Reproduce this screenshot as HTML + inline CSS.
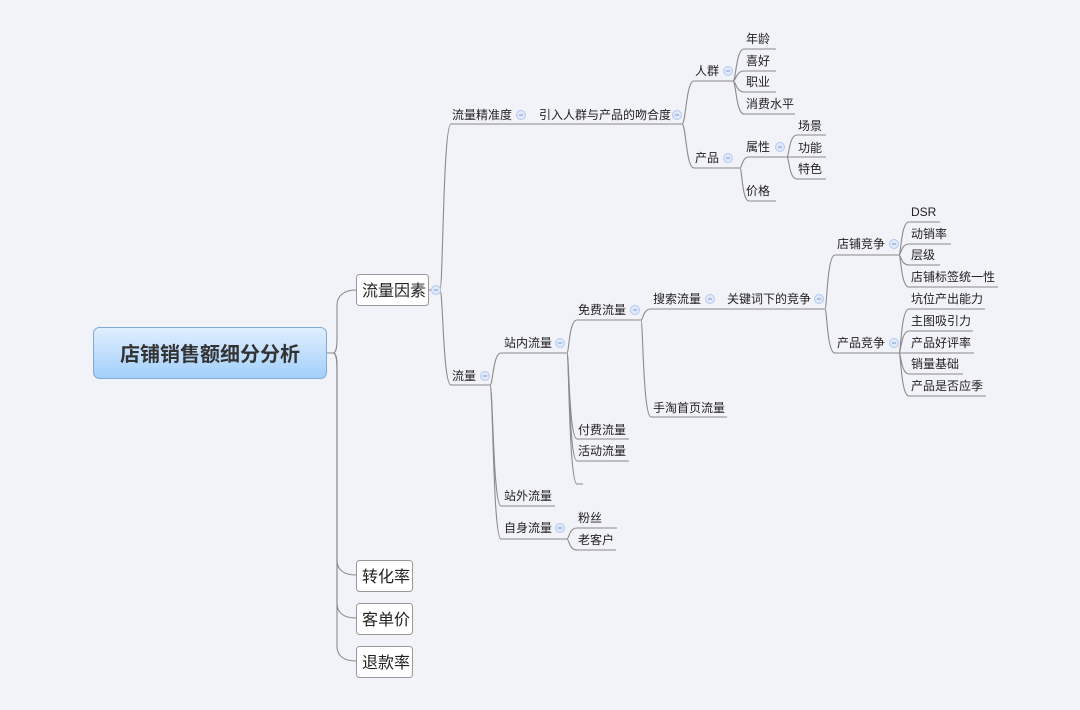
<!DOCTYPE html>
<html><head><meta charset="utf-8"><style>
body{margin:0;background:#f2f3f8;}
svg{display:block;font-family:"Liberation Sans","Noto Sans CJK SC",sans-serif;}
.t{font-size:12px;fill:#222;}
.l{fill:none;stroke:#8a8a8a;stroke-width:1.1;}
.c{fill:#dfe9fb;stroke:#b3c8ef;stroke-width:1;}
</style></head><body>
<svg width="1080" height="710" viewBox="0 0 1080 710">
<defs><linearGradient id="g" x1="0" y1="0" x2="0" y2="1"><stop offset="0" stop-color="#e0effd"/><stop offset="1" stop-color="#a2cffb"/></linearGradient></defs>
<g class="l">
<!-- root -->
<path d="M327,353 L333,353 C336,353 337,348 337,338 L337,305 C337,296 344,290 356,290"/>
<path d="M333,353 C336,353 337,358 337,368 L337,560 C337,570 344,575 356,575"/>
<path d="M333,353 C336,353 337,358 337,368 L337,603 C337,613 344,618 356,618"/>
<path d="M333,353 C336,353 337,358 337,368 L337,646 C337,656 344,661 356,661"/>
<path d="M429,290 L432,290"/>
<!-- A -->
<path d="M440,290 C443,290 443,124 451,124 L682,124"/>
<path d="M440,290 C443,290 443,385 451,385 L490,385"/>
<!-- B -->
<path d="M682,124 C686,124 686,81 694,81 L733,81"/>
<path d="M682,124 C686,124 686,168 694,168 L740,168"/>
<!-- C -->
<path d="M733,81 C736,81 736,49 744,49 L776,49"/>
<path d="M733,81 C736,81 736,71 744,71 L776,71"/>
<path d="M733,81 C736,81 736,92 744,92 L776,92"/>
<path d="M733,81 C736,81 736,114 744,114 L795,114"/>
<!-- D -->
<path d="M740,168 C742,168 742,157 749,157 L787,157"/>
<path d="M740,168 C742,168 742,201 749,201 L776,201"/>
<!-- E -->
<path d="M787,157 C789,157 789,135 797,135 L826,135"/>
<path d="M787,157 L826,157"/>
<path d="M787,157 C789,157 789,179 797,179 L826,179"/>
<!-- F -->
<path d="M490,385 C493,385 493,353 501,353 L567,353"/>
<path d="M490,385 C493,385 493,506 501,506 L555,506"/>
<path d="M490,385 C493,385 493,539 501,539 L567,539"/>
<!-- G -->
<path d="M567,353 C569,353 569,320 577,320 L641,320"/>
<path d="M567,353 C569,353 569,439 577,439 L629,439"/>
<path d="M567,353 C569,353 569,461 577,461 L629,461"/>
<path d="M567,353 C569,353 569,484 577,484 L583,484"/>
<!-- H -->
<path d="M641,320 C643,320 643,309 651,309 L825,309"/>
<path d="M641,320 C643,320 643,417 651,417 L727,417"/>
<!-- I -->
<path d="M825,309 C827,309 827,255 835,255 L899,255"/>
<path d="M825,309 C827,309 827,353 835,353 L899,353"/>
<!-- J -->
<path d="M899,255 C901,255 901,222 909,222 L940,222"/>
<path d="M899,255 C901,255 901,244 909,244 L951,244"/>
<path d="M899,255 C901,255 901,265 909,265 L940,265"/>
<path d="M899,255 C901,255 901,287 909,287 L998,287"/>
<!-- K -->
<path d="M899,353 C901,353 901,309 909,309 L985,309"/>
<path d="M899,353 C901,353 901,331 909,331 L973,331"/>
<path d="M899,353 L974,353"/>
<path d="M899,353 C901,353 901,374 909,374 L963,374"/>
<path d="M899,353 C901,353 901,396 909,396 L986,396"/>
<!-- L -->
<path d="M567,539 C569,539 569,528 577,528 L617,528"/>
<path d="M567,539 C569,539 569,550 577,550 L616,550"/>
</g>
<rect x="93.5" y="327.5" width="233" height="51" rx="6" fill="url(#g)" stroke="#7fa9d6"/>
<text x="210" y="361" text-anchor="middle" font-size="20" font-weight="bold" fill="#333">店铺销售额细分分析</text>
<g fill="#fff" stroke="#999">
<rect x="356.5" y="274.5" width="72" height="31" rx="3"/>
<rect x="356.5" y="560.5" width="56" height="31" rx="3"/>
<rect x="356.5" y="603.5" width="56" height="31" rx="3"/>
<rect x="356.5" y="646.5" width="56" height="31" rx="3"/>
</g>
<g font-size="16" fill="#222">
<text x="362" y="296">流量因素</text>
<text x="362" y="582">转化率</text>
<text x="362" y="625">客单价</text>
<text x="362" y="668">退款率</text>
</g>
<g class="c">
<circle cx="436" cy="290" r="4.5"/><circle cx="521" cy="115" r="4.5"/><circle cx="677" cy="115" r="4.5"/>
<circle cx="728" cy="71" r="4.5"/><circle cx="728" cy="158" r="4.5"/><circle cx="780" cy="147" r="4.5"/>
<circle cx="485" cy="376" r="4.5"/><circle cx="560" cy="343" r="4.5"/><circle cx="560" cy="528" r="4.5"/>
<circle cx="635" cy="310" r="4.5"/><circle cx="710" cy="299" r="4.5"/><circle cx="819" cy="299" r="4.5"/>
<circle cx="894" cy="244" r="4.5"/><circle cx="894" cy="343" r="4.5"/>
</g>
<g stroke="#7d9bd6" stroke-width="1">
<path d="M434,290h4M519,115h4M675,115h4M726,71h4M726,158h4M778,147h4M483,376h4M558,343h4M558,528h4M633,310h4M708,299h4M817,299h4M892,244h4M892,343h4"/>
</g>
<g class="t">
<text x="452" y="119">流量精准度</text>
<text x="539" y="119">引入人群与产品的吻合度</text>
<text x="695" y="75">人群</text>
<text x="746" y="43">年龄</text>
<text x="746" y="65">喜好</text>
<text x="746" y="86">职业</text>
<text x="746" y="108">消费水平</text>
<text x="695" y="162">产品</text>
<text x="746" y="151">属性</text>
<text x="746" y="195">价格</text>
<text x="798" y="130">场景</text>
<text x="798" y="152">功能</text>
<text x="798" y="173">特色</text>
<text x="452" y="380">流量</text>
<text x="504" y="347">站内流量</text>
<text x="504" y="500">站外流量</text>
<text x="504" y="532">自身流量</text>
<text x="578" y="314">免费流量</text>
<text x="578" y="434">付费流量</text>
<text x="578" y="455">活动流量</text>
<text x="653" y="303">搜索流量</text>
<text x="653" y="412">手淘首页流量</text>
<text x="727" y="303">关键词下的竞争</text>
<text x="837" y="248">店铺竞争</text>
<text x="837" y="347">产品竞争</text>
<text x="911" y="216">DSR</text>
<text x="911" y="238">动销率</text>
<text x="911" y="259">层级</text>
<text x="911" y="281">店铺标签统一性</text>
<text x="911" y="303">坑位产出能力</text>
<text x="911" y="325">主图吸引力</text>
<text x="911" y="347">产品好评率</text>
<text x="911" y="368">销量基础</text>
<text x="911" y="390">产品是否应季</text>
<text x="578" y="522">粉丝</text>
<text x="578" y="544">老客户</text>
</g>
</svg>
</body></html>
